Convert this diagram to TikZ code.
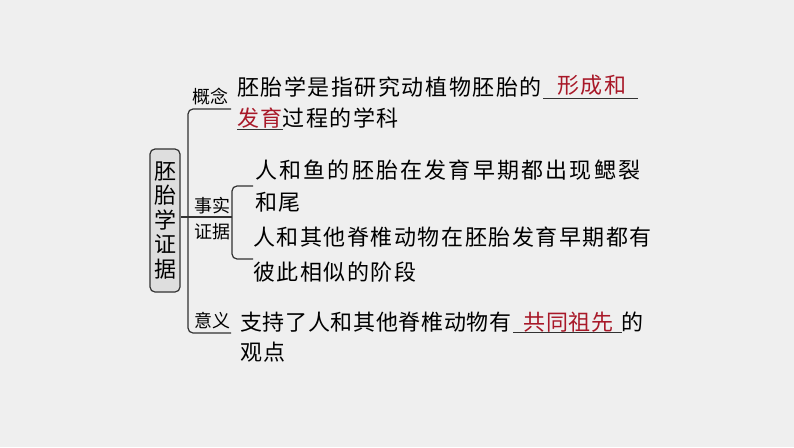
\documentclass[tikz,border=0pt]{standalone}
\usepackage{fontspec}
\setmainfont{Noto Sans CJK SC}
\definecolor{bg}{RGB}{239,239,239}
\definecolor{ln}{RGB}{50,50,50}
\definecolor{ans}{RGB}{168,24,40}
\definecolor{boxfill}{RGB}{222,222,222}
\tikzset{
  txt/.style={anchor=west,inner sep=0pt,font=\fontsize{22}{24}\selectfont\addfontfeature{LetterSpace=7},text=black},
  wide/.style={font=\fontsize{22}{24}\selectfont\addfontfeature{LetterSpace=10}},
  red/.style={text=ans},
  lab/.style={inner sep=0pt,font=\fontsize{18}{20}\selectfont,text=black},
  conn/.style={draw=ln,line width=1.2pt,rounded corners=5pt},
  uline/.style={draw=ln,line width=1pt},
  rootbox/.style={draw=ln,line width=1.2pt,fill=boxfill,rounded corners=5pt,minimum width=30pt,minimum height=143pt,inner sep=0pt,align=center,font=\fontsize{22}{24.5}\selectfont}
}
\begin{document}
\begin{tikzpicture}[x=1pt,y=-1pt]
\useasboundingbox (0,0) rectangle (794,447);
\fill[bg] (0,0) rectangle (794,447);
% root
\node[rootbox] (root) at (165,220.5) {胚\\胎\\学\\证\\据};
% coordinates
\coordinate (jt) at (188,217);
\coordinate (topc) at (188,109);
\coordinate (topr) at (231,109);
\coordinate (botc) at (188,333);
\coordinate (botr) at (231,333);
\coordinate (subm) at (232,217);
\coordinate (subtc) at (232,186);
\coordinate (subtr) at (253,186);
\coordinate (subbc) at (232,259);
\coordinate (subbr) at (253,259);
% labels
\node[lab] (gn) at (210,97) {概念};
\node[lab] (ss) at (212,206) {事实};
\node[lab] (zj) at (212,232) {证据};
\node[lab] (yy) at (212,321) {意义};
% connectors
\draw[conn] (root.east |- jt) -- (subm);
\draw[conn] (topr) -- (topc) -- (botc) -- (botr);
\draw[conn] (subtr) -- (subtc) -- (subbc) -- (subbr);
% texts
\node[txt] (t1a) at (237,87) {胚胎学是指研究动植物胚胎的};
\node[txt,red] (f1) at (557,85) {形成和};
\coordinate (u1a) at (543,98);
\coordinate (u1b) at (638,98);
\draw[uline] (u1a) -- (u1b);
\node[txt] (t1b) at (237,118) {\textcolor{ans}{发育}过程的学科};
\coordinate (u2a) at (237,129);
\coordinate (u2b) at (283,129);
\draw[uline] (u2a) -- (u2b);
\node[txt,wide] (t2a) at (255,170) {人和鱼的胚胎在发育早期都出现鳃裂};
\node[txt] (t2b) at (255,202) {和尾};
\node[txt] (t3a) at (253,237) {人和其他脊椎动物在胚胎发育早期都有};
\node[txt] (t3b) at (253,272) {彼此相似的阶段};
\node[txt,font=\fontsize{22}{24}\selectfont\addfontfeature{LetterSpace=3}] (t4a) at (240,322) {支持了人和其他脊椎动物有};
\node[txt,red,font=\fontsize{22}{24}\selectfont\addfontfeature{LetterSpace=4}] (f2) at (523,322) {共同祖先};
\node[txt] (t4c) at (621,322) {的};
\coordinate (u3a) at (513,332);
\coordinate (u3b) at (622,332);
\draw[uline] (u3a) -- (u3b);
\node[txt] (t4b) at (240,352) {观点};
\end{tikzpicture}
\end{document}
